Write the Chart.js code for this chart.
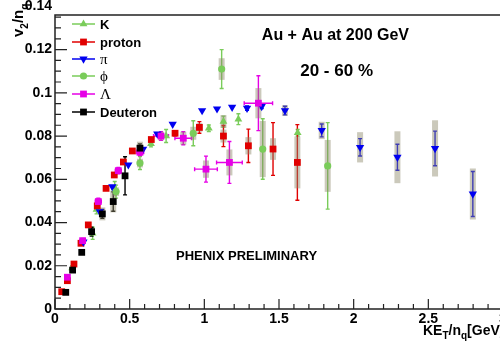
<!DOCTYPE html>
<html>
<head>
<meta charset="utf-8">
<script src="https://cdn.jsdelivr.net/npm/chart.js@4.4.0/dist/chart.umd.min.js"></script>
<style>
html, body { margin: 0; padding: 0; overflow: hidden; background: #fff; width: 500px; height: 346px; }
canvas { display: block; }
</style>
</head>
<body>
<canvas id="myChart" width="520" height="346"></canvas>
<script>
// ---- data (x = KE_T/n_q, y = v2/n_q) ----
var kaonX   = [0.115, 0.252, 0.278, 0.400, 0.643, 0.744, 1.030, 1.128, 1.228, 1.625];
var kaonY   = [0.019, 0.035, 0.046, 0.056, 0.0765, 0.0800, 0.0836, 0.0867, 0.0878, 0.0815];
var kaonErr = [0.001, 0.0028, 0.002, 0.003, 0.0015, 0.003, 0.0015, 0.0025, 0.0025, 0.0015];
var kaonSys = [0, 0, 0, 0, 0, 0, 0, 0.003, 0, 0];

var protonX   = [0.045, 0.083, 0.127, 0.174, 0.223, 0.283, 0.342, 0.397, 0.458, 0.518, 0.645, 0.804, 0.967, 1.128, 1.295, 1.460, 1.623];
var protonY   = [0.008, 0.0131, 0.0208, 0.0304, 0.0389, 0.0477, 0.0558, 0.062, 0.068, 0.0731, 0.0784, 0.0813, 0.084, 0.080, 0.0755, 0.074, 0.0678];
var protonErr = [0, 0, 0, 0, 0, 0, 0, 0, 0, 0, 0, 0.0012, 0.0027, 0.0049, 0.0077, 0.0122, 0.0175];
var protonSys = [0, 0, 0, 0, 0, 0, 0, 0, 0, 0, 0, 0, 0.002, 0.003, 0.004, 0.005, 0.012];

var pionX   = [0.190, 0.300, 0.384, 0.491, 0.590, 0.685, 0.788, 0.985, 1.085, 1.186, 1.286, 1.384, 1.540, 1.786, 2.043, 2.293, 2.545, 2.798];
var pionY   = [0.031, 0.045, 0.0566, 0.0667, 0.074, 0.081, 0.0855, 0.0918, 0.0926, 0.0934, 0.0929, 0.0937, 0.0918, 0.0826, 0.0748, 0.0702, 0.0743, 0.0532];
var pionErr = [0, 0, 0, 0, 0, 0, 0, 0, 0, 0, 0.001, 0.001, 0.002, 0.003, 0.004, 0.006, 0.008, 0.0104];
var pionSys = [0, 0, 0, 0, 0, 0, 0, 0, 0, 0, 0, 0, 0.0025, 0.004, 0.007, 0.012, 0.013, 0.0118];

var phiX   = [0.409, 0.569, 0.926, 1.116, 1.391, 1.826];
var phiY   = [0.0543, 0.0675, 0.0813, 0.111, 0.074, 0.0662];
var phiErr = [0.003, 0.003, 0.0058, 0.009, 0.014, 0.020];
var phiSys = [0.002, 0.002, 0.003, 0.005, 0.013, 0.012];

var lambdaX    = [0.083, 0.185, 0.290, 0.424, 0.569, 0.710, 0.859, 1.011, 1.168, 1.362];
var lambdaY    = [0.0147, 0.0316, 0.0497, 0.064, 0.0725, 0.0800, 0.0790, 0.0647, 0.0678, 0.0952];
var lambdaErr  = [0.001, 0.001, 0.0015, 0.0015, 0.0015, 0.002, 0.003, 0.006, 0.0097, 0.0127];
var lambdaXErr = [0.01, 0.015, 0.02, 0.02, 0.025, 0.05, 0.056, 0.076, 0.086, 0.095];
var lambdaSys  = [0, 0, 0, 0, 0, 0.002, 0.003, 0.004, 0.006, 0.007];

var deuteronX   = [0.072, 0.118, 0.179, 0.245, 0.317, 0.390, 0.469, 0.569];
var deuteronY   = [0.0077, 0.018, 0.0262, 0.0358, 0.044, 0.0497, 0.0616, 0.0744];
var deuteronErr = [0, 0, 0, 0.002, 0.002, 0.0045, 0.0088, 0.002];
var deuteronSys = [0, 0, 0, 0.001, 0.003, 0.005, 0.001, 0.003];

var legendLabels = ["K", "proton", "\u03c0", "\u03d5", "\u039b", "Deuteron"];

var green = "#7acc5a", red = "#e00000", blue = "#0000f0", magenta = "#e600e6";
var boldFont = '"Liberation Sans", Arial, Helvetica, sans-serif';
var serifFont = '"Liberation Serif", "DejaVu Serif", serif';

function pts(xs, ys) {
	var out = [];
	for (var i = 0; i < xs.length; i++) out.push({x: xs[i], y: ys[i]});
	return out;
}

var datasets = [
	{label: legendLabels[0], data: pts(kaonX, kaonY), yErr: kaonErr, sys: kaonSys,
	 pointStyle: "triangle", pointRadius: 4.5, backgroundColor: green, borderColor: green, order: 6},
	{label: legendLabels[1], data: pts(protonX, protonY), yErr: protonErr, sys: protonSys,
	 pointStyle: "rect", pointRadius: 4.8, backgroundColor: red, borderColor: red, order: 5},
	{label: legendLabels[2], data: pts(pionX, pionY), yErr: pionErr, sys: pionSys,
	 pointStyle: "triangle", rotation: 180, pointRadius: 4.8, backgroundColor: blue, borderColor: blue, order: 4},
	{label: legendLabels[3], data: pts(phiX, phiY), yErr: phiErr, sys: phiSys,
	 pointStyle: "circle", pointRadius: 3.6, backgroundColor: green, borderColor: green, order: 3},
	{label: legendLabels[4], data: pts(lambdaX, lambdaY), yErr: lambdaErr, xErr: lambdaXErr, sys: lambdaSys,
	 pointStyle: "rect", pointRadius: 4.8, backgroundColor: magenta, borderColor: magenta, order: 2},
	{label: legendLabels[5], data: pts(deuteronX, deuteronY), yErr: deuteronErr, sys: deuteronSys,
	 pointStyle: "rect", pointRadius: 4.8, backgroundColor: "#000", borderColor: "#000", order: 1}
];
datasets.forEach(function(d){ d.pointBorderWidth = 0; d.borderWidth = 0; d.showLine = false; d.pointHoverRadius = d.pointRadius; });

// error bars and systematic boxes, drawn under the markers
var errorBars = {
	id: "errorBars",
	beforeDatasetsDraw: function(chart) {
		var ctx = chart.ctx, xs = chart.scales.x, ys = chart.scales.y;
		ctx.save();
		chart.data.datasets.forEach(function(ds) {
			ctx.strokeStyle = ds.borderColor;
			ctx.lineWidth = 1.4;
			ds.data.forEach(function(p, i) {
				var px = xs.getPixelForValue(p.x), py = ys.getPixelForValue(p.y);
				var e = ds.yErr ? ds.yErr[i] : 0;
				if (e) {
					var t = ys.getPixelForValue(p.y + e), b = ys.getPixelForValue(p.y - e);
					ctx.beginPath();
					ctx.moveTo(px, t); ctx.lineTo(px, b);
					ctx.moveTo(px - 2, t); ctx.lineTo(px + 2, t);
					ctx.moveTo(px - 2, b); ctx.lineTo(px + 2, b);
					ctx.stroke();
				}
				var ex = ds.xErr ? ds.xErr[i] : 0;
				if (ex) {
					var l = xs.getPixelForValue(p.x - ex), r = xs.getPixelForValue(p.x + ex);
					ctx.beginPath();
					ctx.moveTo(l, py); ctx.lineTo(r, py);
					ctx.moveTo(l, py - 2); ctx.lineTo(l, py + 2);
					ctx.moveTo(r, py - 2); ctx.lineTo(r, py + 2);
					ctx.stroke();
				}
			});
		});
		ctx.fillStyle = "rgba(140,135,105,0.45)";
		chart.data.datasets.forEach(function(ds) {
			ds.data.forEach(function(p, i) {
				var s = ds.sys ? ds.sys[i] : 0;
				if (!s) return;
				var px = xs.getPixelForValue(p.x);
				var t = ys.getPixelForValue(p.y + s), b = ys.getPixelForValue(p.y - s);
				ctx.fillRect(px - 3, t, 6, b - t);
			});
		});
		ctx.restore();
	}
};

function drawSubText(ctx, parts, x, y, size) {
	parts.forEach(function(p) {
		var fs = p.sub ? Math.round(size * 0.68) : size;
		ctx.font = "bold " + fs + "px " + boldFont;
		ctx.fillText(p.t, x, y + (p.sub ? size * 0.3 : 0));
		x += ctx.measureText(p.t).width;
	});
}

// ROOT style frame, inward ticks, legend and labels
var decorations = {
	id: "decorations",
	afterDraw: function(chart) {
		var ctx = chart.ctx, a = chart.chartArea, xs = chart.scales.x, ys = chart.scales.y;
		ctx.save();
		ctx.strokeStyle = "#222";
		ctx.lineWidth = 1.5;
		ctx.beginPath();
		ctx.moveTo(a.right + 20, a.top); ctx.lineTo(a.left, a.top);
		ctx.lineTo(a.left, a.bottom); ctx.lineTo(a.right + 20, a.bottom);
		ctx.stroke();

		ctx.lineWidth = 1.2;
		ctx.beginPath();
		for (var i = 0; i <= 30; i++) {
			var px = xs.getPixelForValue(i / 10);
			ctx.moveTo(px, a.bottom);
			ctx.lineTo(px, a.bottom - (i % 5 === 0 ? 10 : 5));
		}
		for (var j = 0; j * 0.005 <= ys.max + 1e-9; j++) {
			var py = ys.getPixelForValue(j * 0.005);
			ctx.moveTo(a.left, py);
			ctx.lineTo(a.left + (j % 4 === 0 ? 12 : 6), py);
		}
		ctx.stroke();

		// legend
		var rows = [24, 42, 59, 76, 94, 112];
		chart.data.datasets.forEach(function(ds, k) {
			var y = rows[k];
			ctx.strokeStyle = ds.borderColor;
			ctx.lineWidth = 1.5;
			ctx.beginPath(); ctx.moveTo(72, y); ctx.lineTo(95, y); ctx.stroke();
			ctx.fillStyle = ds.backgroundColor;
			Chart.helpers.drawPoint(ctx, {pointStyle: ds.pointStyle, radius: ds.pointRadius,
				rotation: ds.rotation || 0, borderWidth: 0}, 83.5, y);
			ctx.fillStyle = "#000";
			ctx.textBaseline = "middle";
			ctx.textAlign = "left";
			var greek = (k >= 2 && k <= 4);
			ctx.font = greek ? "15px " + serifFont : "bold 13px " + boldFont;
			ctx.fillText(ds.label, 100, y + 1);
		});

		ctx.fillStyle = "#000";
		ctx.textBaseline = "alphabetic";
		ctx.textAlign = "right";
		ctx.font = "bold 16px " + boldFont;
		ctx.fillText("Au + Au at 200 GeV", 409, 40);
		ctx.font = "bold 17px " + boldFont;
		ctx.fillText("20 - 60 %", 373, 76);
		ctx.textAlign = "left";
		ctx.font = "bold 13px " + boldFont;
		ctx.fillText("PHENIX PRELIMINARY", 176, 260);

		// x title
		drawSubText(ctx, [{t: "KE"}, {t: "T", sub: true}, {t: "/n"}, {t: "q", sub: true}, {t: "[GeV]"}], 423, 335, 14);
		// y title (rotated)
		ctx.save();
		ctx.translate(23, 0);
		ctx.rotate(-Math.PI / 2);
		drawSubText(ctx, [{t: "v"}, {t: "2", sub: true}, {t: "/n"}, {t: "q", sub: true}], -37, 0, 15);
		ctx.restore();
		ctx.restore();
	}
};

var tickFont = {family: boldFont, size: 14, weight: "bold"};

var config = {
	type: "scatter",
	data: {datasets: datasets},
	plugins: [errorBars, decorations],
	options: {
		responsive: false,
		animation: false,
		events: [],
		layout: {padding: {left: 0, top: 15, right: 17, bottom: 0}},
		plugins: {legend: {display: false}, tooltip: {enabled: false}},
		scales: {
			x: {
				type: "linear", min: 0, max: 3,
				grid: {display: false, drawTicks: false},
				border: {display: false},
				ticks: {stepSize: 0.5, includeBounds: false, autoSkip: false, maxRotation: 0,
					padding: 2, color: "#000", font: tickFont,
					callback: function(v) { return String(v); }},
				afterFit: function(s) { s.height = 37; }
			},
			y: {
				min: 0, max: 0.136,
				grid: {display: false, drawTicks: false},
				border: {display: false},
				ticks: {stepSize: 0.02, includeBounds: false, autoSkip: false,
					padding: 3, color: "#000", font: tickFont,
					callback: function(v) { return v === 0 ? "0" : String(parseFloat(v.toFixed(3))); }},
				afterBuildTicks: function(s) { s.ticks.push({value: 0.14}); },
				afterFit: function(s) { s.width = 55; }
			}
		}
	}
};

var myChart = new Chart(document.getElementById("myChart").getContext("2d"), config);
</script>
</body>
</html>
